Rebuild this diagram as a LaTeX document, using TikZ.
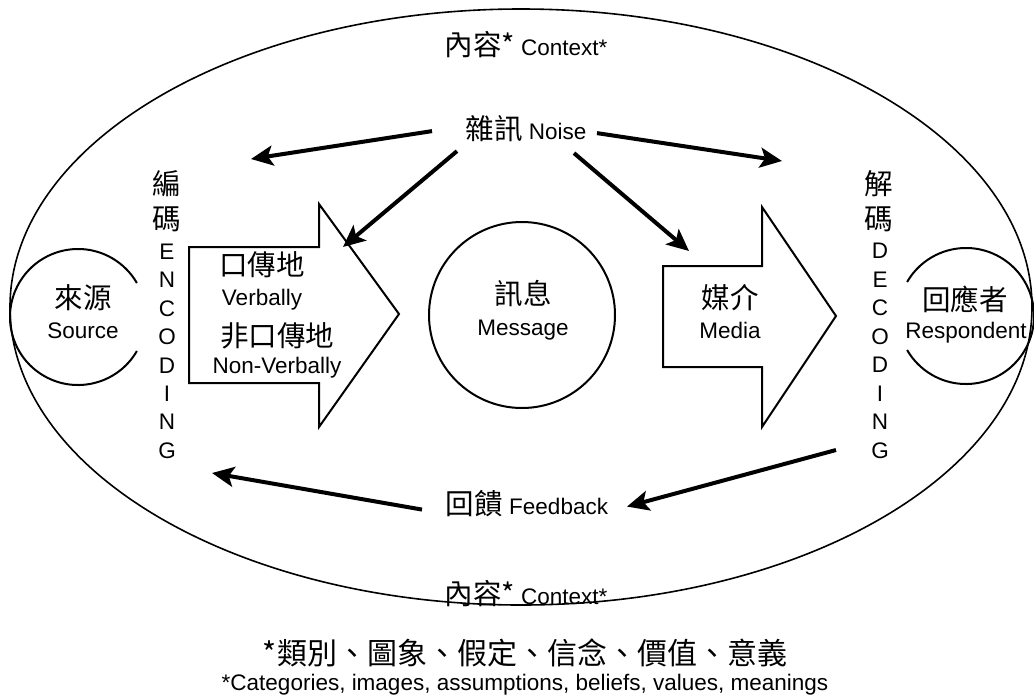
\documentclass[tikz,border=0pt]{standalone}
\usepackage{fontspec}
\setmainfont{Liberation Sans}
\newfontfamily\cjkfont{Noto Sans CJK TC}
\usetikzlibrary{arrows.meta}
\newcommand\zhtxt[1]{{\fontsize{28.5}{32}\selectfont\cjkfont #1}}
\begin{document}
\begin{tikzpicture}[x=1pt,y=-1pt,
  txt/.style={inner sep=0pt, anchor=base, font=\fontsize{22.5}{26}\selectfont},
  zh/.style={inner sep=0pt, anchor=base, font=\fontsize{28.5}{32}\selectfont\cjkfont},
  zhbig/.style={inner sep=0pt, anchor=base, font=\fontsize{30}{34}\selectfont\cjkfont},
  conn/.style={line width=4pt, -{Stealth[length=22pt,width=20pt,inset=5pt]}},
  outline/.style={line width=2pt, line join=miter},
]
\useasboundingbox (0,0) rectangle (1034,697);
% context ellipse
\draw[line width=1.6pt] (521,307) ellipse [x radius=511, y radius=298];

% source
\node[circle, minimum size=136pt, inner sep=0pt] (src) at (78,317) {};
\draw[outline] (src.center) ++(30:68) arc[start angle=30, end angle=330, radius=68];
\node[zh] (srczh) at (83,308.5) {來源};
\node[txt] (srcen) at (83,338) {Source};

% respondent
\node[circle, minimum size=136pt, inner sep=0pt] (resp) at (966,316) {};
\draw[outline] (resp.center) ++(-150:68) arc[start angle=-150, end angle=150, radius=68];
\node[zh] (respzh) at (965,310) {回應者};
\node[txt] (respen) at (966,338) {Respondent};

% message
\node[draw, circle, line width=2pt, minimum size=186pt, inner sep=0pt] (msg) at (522,315) {};
\node[zh] (msgzh) at (523,304) {訊息};
\node[txt] (msgen) at (523,335) {Message};

% block arrows
\draw[outline] (189,247) -- (319,247) -- (319,204) -- (399,314) -- (319,427) -- (319,383) -- (189,383) -- cycle;
\draw[outline] (663,266) -- (762,266) -- (762,207) -- (836,316) -- (762,427) -- (762,367) -- (663,367) -- cycle;

\node[zh] (verbzh) at (262,275.5) {口傳地};
\node[txt] (verben) at (262,305) {Verbally};
\node[zh] (nverbzh) at (277,346.5) {非口傳地};
\node[txt] (nverben) at (277,373) {Non-Verbally};

\node[zh] (mediazh) at (730,308.5) {媒介};
\node[txt] (mediaen) at (730,338) {Media};

% encoding / decoding columns
\node[zh] (enca) at (167,194) {編};
\node[zh] (encb) at (167,229.5) {碼};
\foreach \l [count=\i] in {E,N,C,O,D,I,N,G}
  \node[txt] (enc\i) at (167,{259.5+28.4*(\i-1)}) {\l};
\node[zh] (deca) at (879,194) {解};
\node[zh] (decb) at (879,229.5) {碼};
\foreach \l [count=\i] in {D,E,C,O,D,I,N,G}
  \node[txt] (dec\i) at (880,{258.5+28.5*(\i-1)}) {\l};

% noise
\node[txt] (noise) at (526,139) {\zhtxt{雜訊} Noise};
\coordinate (nL) at (251,159);
\coordinate (nR) at (782,161);
\coordinate (nDL) at (343,247);
\coordinate (nDR) at (689,251);
\draw[conn] ([shift={(-94,3)}]noise.center) -- (nL);
\draw[conn] ([shift={(71,5)}]noise.center) -- (nR);
\draw[conn] ([shift={(-69,23)}]noise.center) -- (nDL);
\draw[conn] ([shift={(48,25)}]noise.center) -- (nDR);

% feedback
\node[txt] (fb) at (527,514.5) {\zhtxt{回饋} Feedback};
\coordinate (fbR) at (836,450);
\coordinate (fbL) at (212,473);
\draw[conn] (fbR) -- ([shift={(100,3)}]fb.center);
\draw[conn] ([shift={(-105,6)}]fb.center) -- (fbL);

% context labels
\node[txt] (ctxtop) at (526,55.5) {\zhtxt{內容*} Context*};
\node[txt] (ctxbot) at (526,604) {\zhtxt{內容*} Context*};

% footnote
\node[zhbig] (foot1) at (525,664) {*類別、圖象、假定、信念、價值、意義};
\node[txt] (foot2) at (525,690) {*Categories, images, assumptions, beliefs, values, meanings};
\end{tikzpicture}
\end{document}
